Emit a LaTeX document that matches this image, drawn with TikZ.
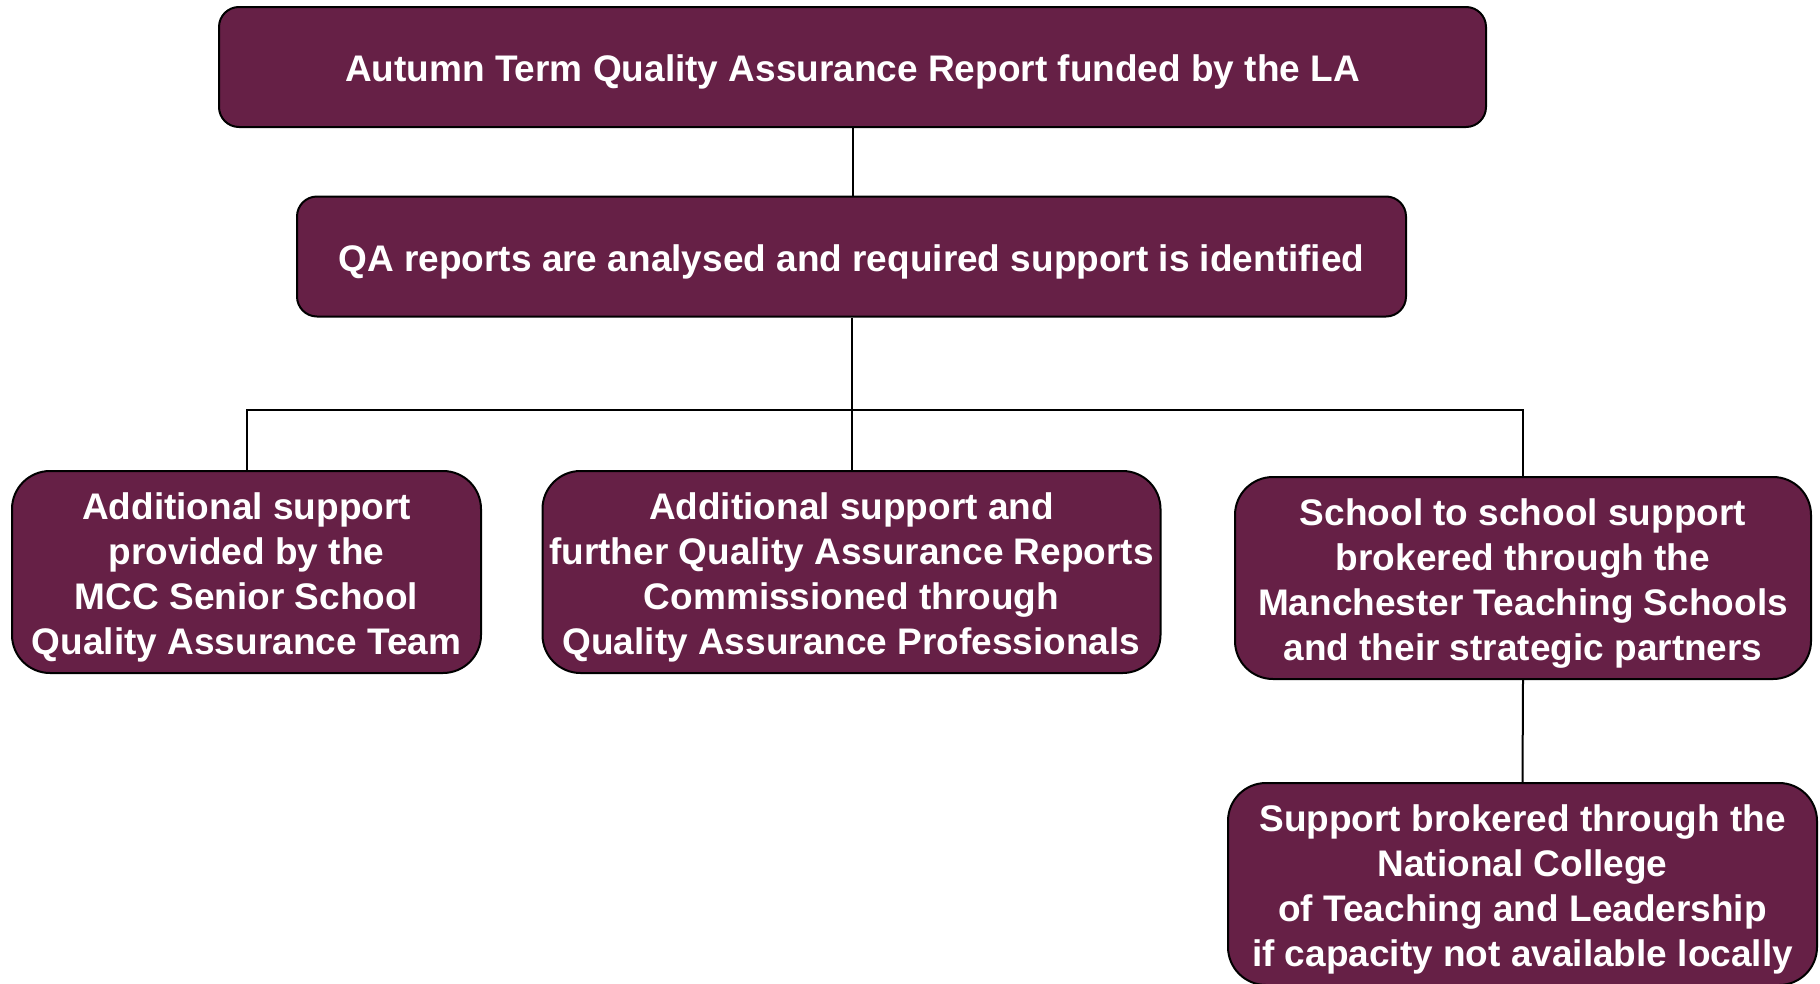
\documentclass[tikz,border=0pt]{standalone}
\usepackage{fontspec}
\setmainfont{Liberation Sans}
\usepackage{xcolor}
\usetikzlibrary{positioning,calc}
\definecolor{qaplum}{RGB}{102,32,70}

\begin{document}
\begin{tikzpicture}[x=1pt, y=-1pt, line width=2pt,
    stage/.style={draw=black, fill=qaplum, text=white, align=center, inner sep=0pt,
        font=\fontsize{37}{45}\selectfont\bfseries},
    top stage/.style={stage, rounded corners=20pt, minimum height=120pt,
        execute at begin node={\rule{0pt}{37pt}}},
    low stage/.style={stage, rounded corners=38pt, minimum height=202pt,
        execute at begin node={\rule{0pt}{172pt}}}]
\path[use as bounding box, clip] (0,0) rectangle (1820,983);
\node[top stage, minimum width=1267pt] (autumn) at (852.5,67) {Autumn Term Quality Assurance Report funded by the LA};
\node[top stage, minimum width=1109pt] (analyse) at (851.5,256.5) {QA reports are analysed and required support is identified};
\node[low stage, minimum width=469pt] (mcc) at (246.5,572) {Additional support\\provided by the\\MCC Senior School\\Quality Assurance Team};
\node[low stage, minimum width=618pt] (qap) at (851.5,572) {Additional support and\\further Quality Assurance Reports\\Commissioned through\\Quality Assurance Professionals};
\node[low stage, minimum width=576pt] (mts) at (1523,578) {School to school support\\brokered through the\\Manchester Teaching Schools\\and their strategic partners};
\node[low stage, minimum width=589pt] (nctl) at (1522.5,884) {Support brokered through the\\National College\\of Teaching and Leadership\\if capacity not available locally};
\coordinate (bar) at (0,410);
\draw (autumn.south) -- (autumn.south |- analyse.north);
\draw (analyse.south) -- (analyse.south |- qap.north);
\draw (mcc.north) -- (mcc.north |- bar) -- (mts.north |- bar) -- (mts.north);
\draw (mts.south) -- (nctl.north);
\end{tikzpicture}
\end{document}
